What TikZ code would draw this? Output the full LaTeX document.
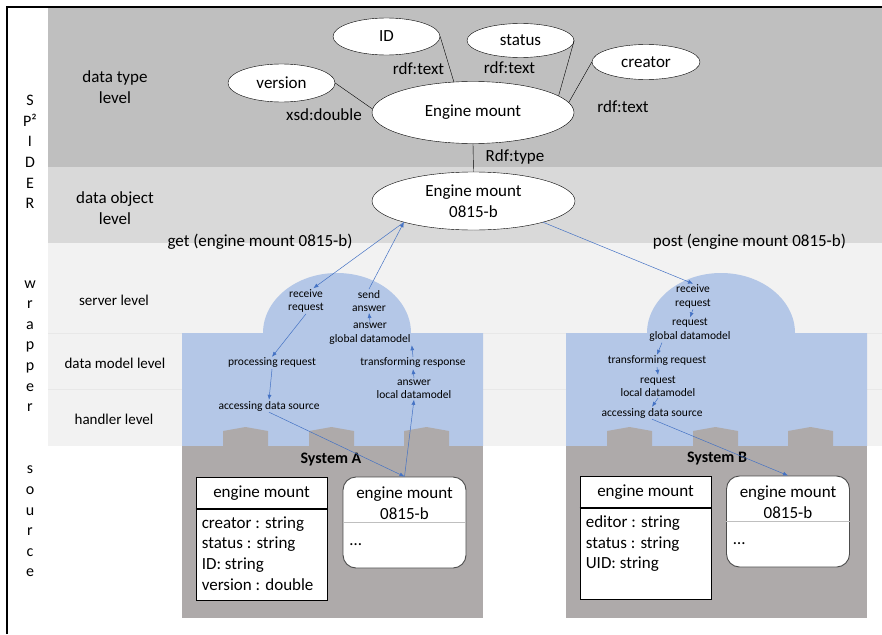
\documentclass[tikz,border=0pt]{standalone}
\usepackage{fontspec}
\setmainfont{Carlito}
\usepackage{tikz}
\usetikzlibrary{arrows.meta}
\usetikzlibrary{positioning}
\usetikzlibrary{shapes.geometric}
\usetikzlibrary{calc}
\definecolor{typegray}{HTML}{BFBFBF}
\definecolor{objgray}{HTML}{D9D9D9}
\definecolor{wrapgray}{HTML}{F2F2F2}
\definecolor{wrapblue}{HTML}{B4C7E7}
\definecolor{srcgray}{HTML}{AEAAAA}
\definecolor{arrblue}{HTML}{4472C4}
\newcommand{\lblfont}{\fontsize{17}{20.6}\selectfont}
\newcommand{\lvlfont}{\fontsize{15}{18}\selectfont}
\newcommand{\stepfont}{\fontsize{11.5}{13.5}\selectfont}
\tikzstyle{concept}=[draw,fill=white,ellipse,inner sep=0pt,font=\lblfont,align=center]
\tikzstyle{elabel}=[font=\lblfont,inner sep=1pt]
\tikzstyle{lvl}=[font=\lvlfont,align=center]
\tikzstyle{vert}=[font=\fontsize{16}{20.6}\selectfont,align=center]
\tikzstyle{wstep}=[font=\stepfont,align=center,inner sep=1pt]
\tikzstyle{flow}=[arrblue,line width=0.5pt,-{Latex[length=5pt,width=4pt]}]

\begin{document}
\begin{tikzpicture}[x=1pt,y=-1pt,
  classhead/.style={draw,fill=white,line width=0.8pt,minimum width=131pt,minimum height=32pt,inner sep=0pt,font=\lblfont},
  classbody/.style={draw,fill=white,line width=0.8pt,minimum width=131pt,minimum height=91pt,inner sep=0pt},
  attrs/.style={font=\lblfont,align=left,inner sep=0pt},
  inst/.style={draw=black!70,fill=white,line width=0.9pt,rounded corners=13pt,minimum width=123pt,minimum height=91pt,inner sep=0pt}]
\useasboundingbox (0,0) rectangle (882,634);

% layers
\fill[typegray] (48,7) rectangle (882,167);
\fill[objgray] (48,167) rectangle (882,243);
\fill[wrapgray] (48,243) rectangle (882,446);
\draw[black!9,line width=1pt] (48,333) -- (882,333);
\draw[black!9,line width=1pt] (48,389) -- (882,389);
\draw[line width=1.2pt] (7,634) -- (7,7) -- (882,7);

\node[vert] (spider) at (30,152) {S\\P²\\I\\D\\E\\R};
\node[vert] (wrapper) at (30,346) {w\\r\\a\\p\\p\\e\\r};
\node[vert] (source) at (30,521.5) {s\\o\\u\\r\\c\\e};

\node[lvl,font=\lblfont] (ltype) at (115,87) {data type\\level};
\node[lvl,font=\lblfont] (lobj) at (115,208) {data object\\level};
\node[lvl] (lserver) at (114,300.5) {server level};
\node[lvl] (lmodel) at (115,363) {data model level};
\node[lvl] (lhandler) at (114,419) {handler level};

% wrappers and sources
\foreach \sx in {182,566}{
  \fill[wrapblue] (\sx,446) -- (\sx,333) -- (\sx+81,333)
    arc[start angle=180,end angle=360,x radius=74,y radius=60]
    -- (\sx+301,333) -- (\sx+301,446) -- cycle;
  \fill[srcgray] (\sx,446) rectangle (\sx+301,618);
  \foreach \bx in {41,127,222}
    \fill[srcgray] (\sx+\bx,446) -- (\sx+\bx,431) -- (\sx+\bx+22.5,427)
      -- (\sx+\bx+45,431) -- (\sx+\bx+45,446) -- cycle;
}

% data type level
\node[concept,minimum width=202pt,minimum height=62pt] (eng) at (473,112.5) {Engine mount};
\node[concept,minimum width=107pt,minimum height=37pt] (id) at (386.5,36.5) {ID};
\node[concept,minimum width=107pt,minimum height=34pt] (status) at (520.5,40.5) {status};
\node[concept,minimum width=108pt,minimum height=35pt] (creator) at (646,62) {creator};
\node[concept,minimum width=107pt,minimum height=38pt] (version) at (281.5,83) {version};
\draw (id.east) -- (eng.122);
\draw (status.east) -- (eng.11);
\draw (creator.west) -- (eng.6);
\draw (version.east) -- (eng.178);
\node[elabel] (lid) at (418.5,69) {rdf:text};
\node[elabel] (lstatus) at (509.5,68) {rdf:text};
\node[elabel] (lcreator) at (623,106.5) {rdf:text};
\node[elabel] (lversion) at (324,115) {xsd:double};

% data object level
\node[concept,minimum width=203pt,minimum height=58pt] (obj) at (473.5,201) {Engine mount\\0815-b};
\draw (eng.south) -- (obj.north);
\node[elabel] (ltype) at (515,157) {Rdf:type};
\coordinate (getpt) at (obj.197);
\coordinate (postpt) at (obj.-17);
\node[elabel] (lget) at (260,242) {get (engine mount 0815-b)};
\node[elabel] (lpost) at (749.5,242) {post (engine mount 0815-b)};

% wrapper A
\node[wstep] (recvA) at (306,301) {receive\\request};
\node[wstep] (sendA) at (369,301) {send\\answer};
\node[wstep] (glbA) at (370,333.5) {answer\\global datamodel};
\node[wstep] (procA) at (272,363) {processing request};
\node[wstep] (trA) at (413,363) {transforming response};
\node[wstep] (lclA) at (414,389) {answer\\local datamodel};
\node[wstep] (accA) at (269,406) {accessing data source};

% wrapper B
\node[wstep] (recvB) at (693,296.5) {receive\\request};
\node[wstep] (glbB) at (690,330) {request\\global datamodel};
\node[wstep] (trB) at (657,361) {transforming request};
\node[wstep] (lclB) at (658,386.5) {request\\local datamodel};
\node[wstep] (accB) at (652,413) {accessing data source};

% system A
\node[font=\fontsize{16}{19}\selectfont\bfseries] (sysA) at (331,460) {System A};
\node[classhead] (clsA) at (261.5,493) {engine mount};
\node[classbody,below=0pt of clsA] (clsAbody) {};
\draw[line width=2pt] (clsA.south west) -- (clsA.south east);
\node[attrs,anchor=north west] (clsAattr) at ([xshift=6pt,yshift=-7pt]clsAbody.north west)
  {creator : string\\status : string\\ID: string\\version : double};
\node[inst] (instA) at (404.5,522.5) {};
\draw[black!25] (instA.west) -- (instA.east);
\node[elabel,align=center] (instAname) at (404.5,503.5) {engine mount\\0815-b};
\node[elabel,anchor=south west] (instAdots) at ([xshift=6pt,yshift=-24pt]instA.west) {\ldots};

% system B
\node[font=\fontsize{16}{19}\selectfont\bfseries] (sysB) at (717,459) {System B};
\node[classhead] (clsB) at (645.5,492) {engine mount};
\node[classbody,below=0pt of clsB] (clsBbody) {};
\draw[line width=2pt] (clsB.south west) -- (clsB.south east);
\node[attrs,anchor=north west] (clsBattr) at ([xshift=6pt,yshift=-7pt]clsBbody.north west)
  {editor : string\\status : string\\UID: string};
\node[inst] (instB) at (788,521.5) {};
\draw[black!25] (instB.west) -- (instB.east);
\node[elabel,align=center] (instBname) at (788,502.5) {engine mount\\0815-b};
\node[elabel,anchor=south west] (instBdots) at ([xshift=6pt,yshift=-24pt]instB.west) {\ldots};

% get request
\draw[flow] (getpt) -- (recvA.60);
\draw[flow] (recvA.south) -- (procA.north);
\draw[flow] (procA.south) -- (accA.north);
\draw[flow] (accA.south) -- (instA.north);
\draw[flow] (instA.north) -- (lclA.south);
\draw[flow] (lclA.north) -- (trA.south);
\draw[flow] (trA.north) -- (glbA.south east);
\draw[flow] (glbA.north) -- (sendA.south);
\draw[flow] (sendA.north) -- (getpt);

% post request
\draw[flow] (postpt) -- (recvB.north);
\draw[flow] (recvB.south) -- (glbB.north);
\draw[flow] ([xshift=5pt]glbB.south -| trB.north) -- (trB.north);
\draw[flow] (trB.south) -- (lclB.north);
\draw[flow] (lclB.south) -- (accB.north);
\draw[flow] (accB.south) -- (instB.north);
\end{tikzpicture}
\end{document}
